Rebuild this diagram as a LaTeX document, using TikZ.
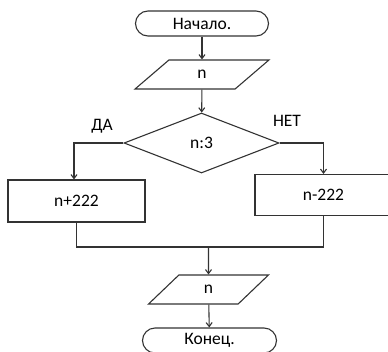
\documentclass[tikz,border=0pt]{standalone}
\usepackage{fontspec}
\setmainfont{Carlito}
\usetikzlibrary{arrows.meta}
\usetikzlibrary{shapes.geometric}
\tikzset{
  line/.style={draw=black!80, line width=1.1pt},
  arr/.style={line, -{Straight Barb[length=4pt,width=6pt]}},
  term/.style={line, rectangle, rounded corners=12.5pt, minimum width=133pt, minimum height=25pt, inner sep=0pt},
  io/.style={line, trapezium, trapezium stretches=true, trapezium left angle=61, trapezium right angle=119, minimum height=29pt, inner sep=0pt},
  decis/.style={line, diamond, minimum width=155pt, minimum height=60pt, inner sep=0pt},
  proc/.style={line, rectangle, minimum width=137pt, inner sep=0pt},
  txt/.style={font=\fontsize{17.5}{20}\selectfont}
}
\begin{document}
\begin{tikzpicture}[x=1pt,y=-1pt,txt]
\useasboundingbox (0,0) rectangle (388,351);
\node[term] (start) at (202,23.5) {Начало.};
\node[io, minimum width=134pt] (inp) at (202,74.5) {n};
\node[decis] (dec) at (201.5,143) {n:3};
\node[proc, minimum height=42pt] (plus) at (76.5,201) {n+222};
\node[proc, minimum height=41pt] (minus) at (323.5,195) {n-222};
\node[io, minimum width=120pt] (outp) at (208.5,289.5) {n};
\node[term, minimum width=134pt] (stop) at (209.5,340.5) {Конец.};
\node (yes) at (102,126) {ДА};
\node (no) at (287,121) {НЕТ};
\coordinate (merge) at (208.5,247);
\draw[arr] (start) -- (inp);
\draw[arr] (inp) -- (dec);
\draw[arr] (dec.west) -| ([xshift=-2.5pt]plus.north);
\draw[arr] (dec.east) -| (minus.north);
\draw[line] (plus.south) |- (merge) -| (minus.south);
\draw[arr] (merge) -- (outp);
\draw[arr] (outp) -- (stop);
\end{tikzpicture}
\end{document}
